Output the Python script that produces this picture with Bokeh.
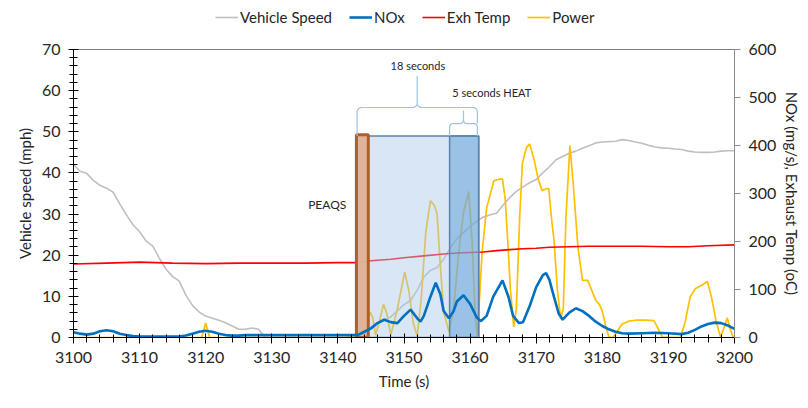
import math
from bokeh.plotting import figure
from bokeh.layouts import column
from bokeh.models import (Range1d, LinearAxis, SingleIntervalTicker, Legend, LegendItem,
                          Label, Span)
from bokeh.embed import file_html
from bokeh.resources import INLINE

# ---------------- data ----------------
speed_t = list(range(3100, 3201))
speed_mph = [42.0, 40.4, 39.9, 38.2, 37.0, 36.3, 35.3, 32.5, 29.8, 27.4,
             25.7, 23.4, 22.2, 19.2, 16.6, 14.8, 13.7, 10.3, 7.8, 6.2,
             5.2, 4.7, 4.2, 3.6, 2.8, 2.0, 2.0, 2.3, 2.0, 0.0,
             0.0, 0.0, 0.0, 0.0, 0.0, 0.0, 0.0, 0.0, 0.0, 0.0,
             0.0, 0.0, 0.0, 0.0, 1.0, 2.5, 3.6, 4.4, 5.0, 6.5,
             8.0, 9.0, 11.5, 14.7, 16.3, 17.0, 19.0, 21.8, 24.0, 25.5,
             27.0, 28.3, 29.3, 29.8, 30.2, 32.2, 34.0, 35.5, 36.6, 37.6,
             38.4, 40.0, 41.5, 43.2, 44.0, 44.8, 45.3, 46.0, 46.6, 47.3,
             47.5, 47.6, 47.7, 48.1, 47.9, 47.5, 47.2, 46.7, 46.3, 46.1,
             46.0, 45.8, 45.7, 45.3, 45.1, 45.0, 45.0, 45.1, 45.3, 45.4, 45.4]

nox_t = [3100, 3101, 3102, 3103, 3104, 3105, 3106, 3107, 3108, 3109, 3110, 3116,
         3117, 3118, 3119, 3120, 3121, 3122, 3123, 3124, 3125, 3126, 3143,
         3144, 3145, 3146, 3147, 3148, 3149, 3150, 3151, 3152, 3152.5, 3153,
         3154, 3154.8, 3155.5, 3156, 3156.8, 3157.5, 3158, 3159, 3160, 3161,
         3161.6, 3162.5, 3163.5, 3164.9, 3165.8, 3166.5, 3167.4, 3168, 3169,
         3170, 3171, 3171.5, 3172, 3172.7, 3173.4, 3174, 3175, 3176, 3177,
         3178, 3179, 3180, 3181, 3182, 3183, 3184, 3186, 3188, 3190, 3192,
         3193, 3194, 3195, 3196, 3197, 3198, 3199, 3200]
nox_mgs = [11, 8, 6, 8, 13, 15, 13, 8, 5, 3, 2, 2,
           4, 8, 12, 14, 12, 8, 5, 4, 4, 5, 5,
           12, 19, 30, 37, 32, 30, 45, 58, 40, 33, 45,
           85, 114, 90, 55, 40, 55, 75, 88, 70, 42,
           34, 45, 85, 119, 85, 45, 30, 32, 65,
           105, 130, 134, 120, 84, 50, 37, 52, 61, 55,
           45, 33, 24, 17, 12, 9, 8, 9, 10, 9, 7,
           10, 16, 23, 28, 31, 30, 25, 18]

temp_t = [3100, 3105, 3110, 3115, 3120, 3125, 3130, 3135, 3140, 3143, 3145, 3148,
          3150, 3153, 3156, 3158, 3160, 3162, 3164, 3166, 3168, 3170, 3172,
          3175, 3178, 3182, 3186, 3190, 3193, 3196, 3200]
temp_c = [153, 155, 157, 155, 154, 155, 155, 155, 156, 156, 160, 163,
          166, 170, 174, 176, 177, 178, 181, 183, 185, 186, 188,
          189, 190, 190, 190, 189, 189, 191, 193]

power_t = [3100, 3119.4, 3120, 3120.6, 3141, 3142, 3143, 3143.5, 3144.2, 3144.9,
           3145.3, 3145.7, 3146.3, 3146.9, 3147.4, 3148, 3149, 3150.1, 3150.7,
           3151.4, 3152, 3152.6, 3153.3, 3154, 3154.6, 3155, 3155.5, 3156,
           3156.8, 3157.5, 3158.3, 3159, 3159.8, 3160.3, 3160.8, 3161.1, 3161.5,
           3161.8, 3162.5, 3163.6, 3164.5, 3164.9, 3165.3, 3165.6, 3166.1,
           3166.6, 3167, 3167.5, 3167.9, 3168.5, 3169, 3169.7, 3170.3, 3170.9,
           3171.5, 3171.9, 3172.3, 3172.7, 3173.2, 3173.7, 3174.1, 3174.5,
           3175.1, 3175.6, 3176.3, 3177, 3177.8, 3178.5, 3179, 3179.6, 3180,
           3180.5, 3181, 3181.6, 3182.2, 3183, 3184, 3185, 3186.5, 3187.8,
           3188.4, 3189.1, 3191.8, 3192.5, 3193.3, 3194.1, 3195.2, 3195.9,
           3196.5, 3197.2, 3197.9, 3198.4, 3198.9, 3199.3, 3199.8]
power_val = [0, 0, 30, 0, 0, 3, 5, 10, 30, 53,
             40, 5, 35, 69, 50, 5, 60, 136, 100,
             30, 3, 80, 220, 285, 275, 258, 150, 53,
             12, 60, 180, 260, 304, 200, 40, 3, 100,
             175, 270, 327, 330, 330, 290, 223, 100,
             22, 60, 250, 362, 395, 403, 370, 330, 306,
             310, 310, 250, 202, 100, 40, 60, 250,
             400, 320, 190, 119, 119, 95, 78, 68, 55,
             25, 1, 0, 12, 28, 34, 36, 36, 35,
             20, 1, 0, 30, 85, 102, 110, 117,
             85, 35, 0, 20, 41, 20, 0]

series_names = ["Vehicle Speed", "NOx", "Exh Temp", "Power"]

# annotation windows (seconds) and box height (mph)
window_start, window_end = 3142.9, 3161.3      # 18 seconds
heat_start, heat_end = 3156.9, 3161.3          # 5 seconds HEAT
peaqs_start, peaqs_end = 3142.8, 3144.6        # PEAQS
box_top = 49.0

FONT = "Lato"
TXT = "#262626"
STYLE = {"Vehicle Speed": ("#bfbfbf", 1.6), "NOx": ("#0070c0", 2.6),
         "Exh Temp": ("#ff0000", 1.6), "Power": ("#ffc000", 1.7)}

p = figure(width=808, height=369, output_backend="svg", toolbar_location=None,
           x_range=Range1d(3100, 3200), y_range=Range1d(0, 70),
           min_border_left=73, min_border_right=74, min_border_top=10, min_border_bottom=71)
p.extra_y_ranges = {"right": Range1d(0, 600)}
p.outline_line_color = None
p.xgrid.visible = False
p.ygrid.visible = False
p.background_fill_color = "white"

# lines
p.line(speed_t, speed_mph, line_color=STYLE["Vehicle Speed"][0], line_width=STYLE["Vehicle Speed"][1])
p.line(power_t, power_val, y_range_name="right", line_color=STYLE["Power"][0], line_width=STYLE["Power"][1])
p.line(temp_t, temp_c, y_range_name="right", line_color=STYLE["Exh Temp"][0], line_width=STYLE["Exh Temp"][1])

# boxes
p.quad(left=[window_start], right=[window_end], bottom=[0], top=[box_top],
       fill_color="#a9c8ea", fill_alpha=0.45, line_color="#5b82ad", line_width=1.5)
p.quad(left=[heat_start], right=[heat_end], bottom=[0], top=[box_top],
       fill_color="#5b9bd5", fill_alpha=0.5, line_color="#5b82ad", line_width=1.5)
p.quad(left=[peaqs_start], right=[peaqs_end], bottom=[0], top=[box_top + 0.3],
       fill_color="#e2b193", fill_alpha=0.95, line_color="#b05e28", line_width=3)

p.line(nox_t, nox_mgs, y_range_name="right", line_color=STYLE["NOx"][0], line_width=STYLE["NOx"][1])


# curly braces
def brace(x0, x1, yb0, yb1, yh, ypk, rx=0.7, ry=1.1, n=6):
    xm = (x0 + x1) / 2
    xs, ys = [x0], [yb0]
    for i in range(n + 1):
        a = math.pi - (math.pi / 2) * i / n
        xs.append(x0 + rx + rx * math.cos(a)); ys.append(yh - ry + ry * math.sin(a))
    for i in range(n + 1):
        a = 1.5 * math.pi + (math.pi / 2) * i / n
        xs.append(xm - rx + rx * math.cos(a)); ys.append(yh + ry + ry * math.sin(a))
    xs.append(xm); ys.append(ypk)
    for i in range(n + 1):
        a = math.pi + (math.pi / 2) * i / n
        xs.append(xm + rx + rx * math.cos(a)); ys.append(yh + ry + ry * math.sin(a))
    for i in range(n + 1):
        a = math.pi / 2 - (math.pi / 2) * i / n
        xs.append(x1 - rx + rx * math.cos(a)); ys.append(yh - ry + ry * math.sin(a))
    xs.append(x1); ys.append(yb1)
    return xs, ys


bx, by = brace(window_start, window_end - 0.2, box_top, 52.0, 55.9, 63.6)
p.line(bx, by, line_color="#9dc3e6", line_width=1.2)
sx, sy = brace(heat_start, heat_end - 0.2, box_top, box_top, 52.0, 55.1, rx=0.5, ry=0.9)
p.line(sx, sy, line_color="#9dc3e6", line_width=1.2)

# labels
p.add_layout(Label(x=(window_start + window_end) / 2, y=66.0, text="18 seconds",
                   text_align="center", text_baseline="middle", text_font=FONT,
                   text_font_size="11px", text_color=TXT))
p.add_layout(Label(x=3157.3, y=59.6, text="5 seconds HEAT", text_align="left",
                   text_baseline="middle", text_font=FONT, text_font_size="11px", text_color=TXT))
p.add_layout(Label(x=3135.5, y=32.3, text="PEAQS", text_align="left",
                   text_baseline="middle", text_font=FONT, text_font_size="12px", text_color=TXT))

# top border
p.add_layout(Span(location=70, dimension="width", line_color="black", line_width=1))

# axes
xa = p.xaxis[0]
xa.ticker = SingleIntervalTicker(interval=10, num_minor_ticks=5)
xa.axis_label = "Time (s)"
yl = p.yaxis[0]
yl.ticker = SingleIntervalTicker(interval=10, num_minor_ticks=5)
yl.axis_label = "Vehicle speed (mph)"
for ax in (xa, yl):
    ax.axis_line_color = "black"
    ax.major_tick_line_color = "black"
    ax.minor_tick_line_color = "black"
    ax.major_label_text_font = FONT
    ax.major_label_text_font_size = "16px"
    ax.major_label_text_color = TXT
    ax.axis_label_text_font = FONT
    ax.axis_label_text_font_size = "15px"
    ax.axis_label_text_font_style = "normal"
    ax.axis_label_text_color = TXT
xa.major_tick_in, xa.major_tick_out = 4, 6
xa.minor_tick_in, xa.minor_tick_out = 3, 5
xa.major_label_standoff = 8
xa.axis_label_standoff = 6
yl.major_tick_in, yl.major_tick_out = 5, 5
yl.minor_tick_in, yl.minor_tick_out = 4, 4
yl.major_label_standoff = 8
yl.axis_label_standoff = 5

yr = LinearAxis(y_range_name="right", axis_label="NOx (mg/s), Exhaust Temp (oC)",
                ticker=SingleIntervalTicker(interval=100, num_minor_ticks=0))
yr.axis_line_color = "#8c8c8c"
yr.major_tick_line_color = "#8c8c8c"
yr.minor_tick_line_color = None
yr.major_tick_in, yr.major_tick_out = 0, 6
yr.major_label_standoff = 8
yr.major_label_text_font = FONT
yr.major_label_text_font_size = "16px"
yr.major_label_text_color = TXT
yr.axis_label_text_font = FONT
yr.axis_label_text_font_size = "15px"
yr.axis_label_text_font_style = "normal"
yr.axis_label_text_color = TXT
yr.axis_label_standoff = 4
p.add_layout(yr, "right")

# legend strip above the chart (frame aligned with the main chart's frame)
lg = figure(width=808, height=39, output_backend="svg", toolbar_location=None,
            x_range=Range1d(0, 1), y_range=Range1d(0, 1), min_border=0)
lg.axis.visible = False
lg.grid.visible = False
lg.outline_line_color = None
items = []
for name in series_names:
    col, w = STYLE[name]
    # placeholder renderer off-range, only used for the legend swatch
    r = lg.line([-5, -4], [-5, -4], line_color=col, line_width=w)
    items.append(LegendItem(label=name, renderers=[r]))
legend = Legend(items=items, orientation="horizontal", location=(142, 13),
                border_line_color=None, background_fill_alpha=0,
                padding=0, margin=0, spacing=17, glyph_width=23, glyph_height=18,
                label_standoff=2, label_text_font=FONT, label_text_font_size="15px",
                label_text_color=TXT)
lg.add_layout(legend)

page = column(lg, p, spacing=0)
open("out.html", "w").write(file_html(page, INLINE))
